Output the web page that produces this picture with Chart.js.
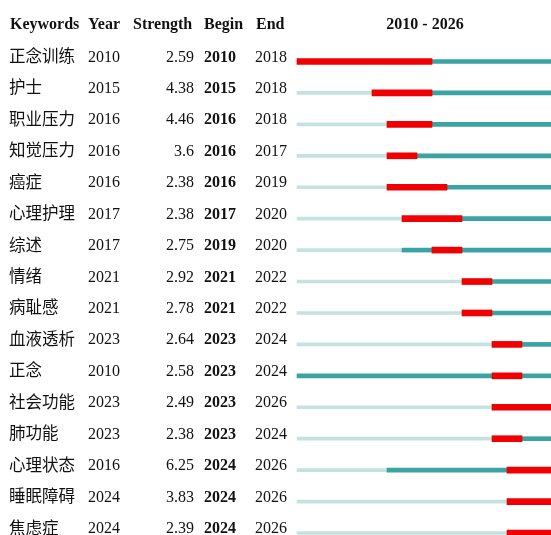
<!DOCTYPE html>
<html>
<head>
<meta charset="utf-8">
<script src="https://cdn.jsdelivr.net/npm/chart.js@4/dist/chart.umd.min.js"></script>
<style>
html,body{margin:0;padding:0;background:#fff;overflow:hidden;width:551px;height:535px;}
#wrap{position:absolute;left:0;top:0;width:556px;height:535px;}
</style>
</head>
<body>
<div id="wrap"><canvas id="c" width="556" height="535"></canvas></div>
<script>
const keywords = ["正念训练","护士","职业压力","知觉压力","癌症","心理护理","综述","情绪","病耻感","血液透析","正念","社会功能","肺功能","心理状态","睡眠障碍","焦虑症"];
const years    = [2010,2015,2016,2016,2016,2017,2017,2021,2021,2023,2010,2023,2023,2016,2024,2024];
const strength = ["2.59","4.38","4.46","3.6","2.38","2.38","2.75","2.92","2.78","2.64","2.58","2.49","2.38","6.25","3.83","2.39"];
const begins   = [2010,2015,2016,2016,2016,2017,2019,2021,2021,2023,2023,2023,2023,2024,2024,2024];
const ends     = [2018,2018,2018,2017,2019,2020,2020,2022,2022,2024,2024,2026,2024,2026,2026,2026];
const startYear = 2010, endYear = 2026;

const lightData = keywords.map((k,i)=> years[i] > startYear ? [startYear, years[i]] : null);
const tealA = keywords.map((k,i)=> begins[i] > years[i] ? [years[i], begins[i]] : null);
const redData = keywords.map((k,i)=> [begins[i], ends[i]+1]);
const tealB = keywords.map((k,i)=> ends[i] < endYear ? [ends[i]+1, endYear+1] : null);

const textPlugin = {
  id:'textCols',
  afterDraw(chart){
    const ctx = chart.ctx, ys = chart.scales.y;
    ctx.save();
    ctx.fillStyle = '#111';
    ctx.textBaseline = 'alphabetic';
    const hb = 'bold 16px "Liberation Serif", "Times New Roman", serif';
    const nr = '16px "Liberation Serif", "Times New Roman", serif';
    ctx.font = hb;
    ctx.textAlign = 'left';
    const hy = 29;
    ctx.fillText('Keywords', 10, hy);
    ctx.fillText('Year', 88, hy);
    ctx.fillText('Strength', 133, hy);
    ctx.fillText('Begin', 204, hy);
    ctx.fillText('End', 256, hy);
    ctx.textAlign = 'center';
    ctx.fillText(startYear + ' - ' + endYear, 425, hy);
    keywords.forEach((k,i)=>{
      const y = ys.getPixelForValue(i);
      ctx.textAlign = 'left';
      ctx.font = '16.5px "Noto Sans CJK SC", sans-serif';
      ctx.fillText(k, 9, y + 0.5);
      ctx.font = nr;
      ctx.fillText(String(years[i]), 88, y);
      ctx.textAlign = 'right';
      ctx.fillText(strength[i], 194, y);
      ctx.textAlign = 'left';
      ctx.font = hb;
      ctx.fillText(String(begins[i]), 204, y);
      ctx.font = nr;
      ctx.fillText(String(ends[i]), 255, y);
    });
    ctx.restore();
  }
};

new Chart(document.getElementById('c'), {
  type:'bar',
  data:{
    labels: keywords,
    datasets:[
      {label:'before', data:lightData, backgroundColor:'#c4e3e0', barThickness:3, grouped:false, order:4, clip:false},
      {label:'active', data:tealA, backgroundColor:'#3aa3a3', barThickness:4, grouped:false, order:3, clip:false},
      {label:'after', data:tealB, backgroundColor:'#3aa3a3', barThickness:4, grouped:false, order:2, clip:false},
      {label:'burst', data:redData, backgroundColor:'#f00000', barThickness:6, grouped:false, order:1, clip:false}
    ]
  },
  options:{
    indexAxis:'y',
    responsive:false,
    animation:false,
    layout:{padding:{left:297, right:4, top:61.5, bottom:2}},
    plugins:{legend:{display:false}, tooltip:{enabled:false}},
    scales:{
      x:{type:'linear', min:startYear, max:endYear+1, display:false},
      y:{type:'category', offset:false, display:false}
    }
  },
  plugins:[textPlugin]
});
</script>
</body>
</html>
